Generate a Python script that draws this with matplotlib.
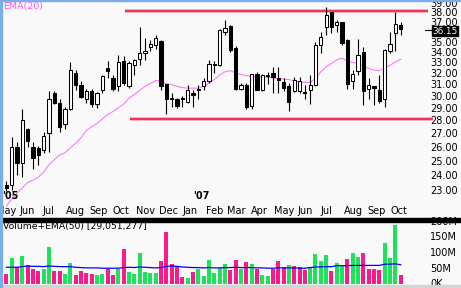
import numpy as np
import pandas as pd
import matplotlib
matplotlib.use('Agg')
import matplotlib.pyplot as plt
from matplotlib import transforms
from matplotlib.patches import Rectangle
from matplotlib.lines import Line2D

# ---------------- data ----------------
start_week = '2006-05-15'
opens = [23.2, 23.2, 25.9, 24.7, 27.2, 25.9, 25.8, 25.65, 26.9, 30.1, 29.3,
         27.6, 28.8, 31.9, 30.8, 29.6, 30.3, 29.2, 30.4, 32.3, 31.4,
         30.7, 33.0, 30.7, 32.6, 33.2, 33.7, 34.3, 34.5, 34.9, 30.9,
         29.7, 29.6, 29.7, 29.35, 30.1, 30.4, 30.7, 31.2, 32.7, 32.6,
         35.8, 36.4, 34.2, 30.5, 30.85, 29.05, 31.8, 30.4, 31.6, 31.9,
         31.4, 31.1, 30.75, 30.3, 30.3, 30.1, 30.4, 30.85, 34.5, 36.3,
         37.9, 36.5, 36.8, 35.0, 31.2, 32.1, 33.8, 30.5, 30.7, 30.4,
         29.6, 33.9, 35.7, 36.5]
highs = [23.5, 26.6, 26.2, 28.8, 27.3, 26.2, 25.95, 27.0, 30.3, 30.3, 29.6,
         29.0, 32.9, 32.2, 31.2, 30.5, 30.5, 30.2, 31.7, 33.0, 31.7,
         33.6, 33.5, 33.0, 33.2, 36.3, 35.2, 35.0, 35.5, 35.0, 30.95,
         30.1, 29.7, 29.9, 30.85, 30.4, 30.85, 31.4, 33.1, 33.0, 36.1,
         37.0, 36.5, 34.4, 31.0, 31.0, 31.8, 32.0, 31.8, 32.0, 32.4,
         32.4, 31.4, 31.0, 31.5, 31.5, 30.85, 31.7, 34.8, 35.8, 38.4,
         37.9, 37.0, 36.8, 35.1, 32.2, 35.1, 34.3, 31.4, 30.75, 31.7,
         34.1, 35.8, 37.9, 36.8]
lows = [22.85, 22.9, 23.9, 23.75, 25.9, 24.3, 24.6, 25.4, 25.5, 29.25, 27.0,
        27.2, 28.75, 30.4, 29.7, 29.3, 29.0, 28.9, 30.1, 31.4, 30.3,
        30.3, 30.8, 30.6, 31.7, 32.6, 33.1, 33.9, 34.1, 30.4, 28.4,
        29.0, 28.9, 28.95, 29.3, 29.0, 29.6, 30.4, 31.0, 31.9, 32.5,
        35.5, 33.8, 30.4, 30.4, 28.8, 28.8, 30.35, 30.3, 30.9, 30.1,
        30.1, 30.3, 28.65, 30.2, 30.1, 29.6, 29.2, 30.75, 33.7, 35.5,
        35.7, 35.8, 34.5, 30.5, 30.45, 31.7, 29.1, 29.6, 29.1, 29.3,
        29.0, 33.7, 33.9, 35.5]
closes = [23.05, 25.9, 24.7, 27.9, 26.3, 25.1, 25.3, 26.7, 29.6, 29.3, 27.4,
          28.8, 32.2, 30.8, 29.8, 30.3, 29.2, 30.1, 31.65, 32.1, 30.5,
          32.9, 31.0, 32.8, 33.1, 33.7, 33.95, 34.6, 35.2, 30.7, 29.6,
          29.6, 29.05, 29.6, 30.4, 30.0, 30.5, 31.2, 32.7, 32.6, 36.0,
          36.2, 34.0, 30.5, 30.85, 29.0, 31.8, 30.4, 31.7, 31.7, 31.5,
          31.3, 30.6, 29.4, 31.3, 31.2, 30.2, 30.85, 34.5, 35.3, 37.6,
          36.3, 36.8, 34.7, 30.9, 31.8, 33.6, 30.3, 30.8, 30.6, 29.5,
          34.0, 34.6, 36.6, 36.15]
ema20 = [21.9, 22.3, 22.7, 23.05, 23.4, 23.55, 23.75, 24.1, 24.6, 24.95, 25.3,
         25.45, 25.8, 26.15, 26.55, 27.1, 27.4, 27.65, 28.0, 28.35, 28.6,
         28.9, 29.2, 29.7, 30.0, 30.35, 30.7, 30.95, 31.2, 31.2, 30.95,
         30.85, 30.7, 30.6, 30.55, 30.55, 30.55, 30.7, 31.0, 31.3, 31.7,
         32.0, 32.1, 31.9, 31.75, 31.65, 31.6, 31.55, 31.5, 31.5, 31.45,
         31.4, 31.35, 31.3, 31.2, 31.1, 31.05, 31.05, 31.4, 32.0, 32.45,
         32.75, 33.1, 33.25, 32.95, 32.85, 32.75, 32.5, 32.3, 32.15, 32.1,
         32.35, 32.6, 32.9, 33.15]
volume_m = [32, 84, 54, 90, 60, 49, 41, 48, 119, 42, 42,
            32, 68, 29, 42, 34, 32, 30, 32, 49, 29,
            48, 113, 40, 32, 99, 40, 37, 37, 74, 168,
            65, 58, 22, 18, 40, 48, 26, 77, 34, 51,
            65, 45, 77, 50, 72, 65, 48, 29, 26, 48,
            75, 54, 61, 58, 54, 45, 54, 97, 74, 94,
            43, 69, 58, 81, 101, 88, 101, 48, 48, 45,
            133, 85, 190, 29.051277]
volume_dir = ("pgpgpppggpp" "ggppppggpp" "gpggggggpp" "pppgpggggg"
              "gppgpgpggp" "ppgpppgggg" "pggpggpppp" "gggp")
vol_ema50 = [54, 54, 54, 56, 58, 57, 57, 56, 58, 57, 56,
             56, 56, 54, 53, 52, 52, 52, 51, 51, 51,
             51, 53, 54, 53, 55, 54, 53, 52, 53, 57,
             58, 57, 55, 54, 53, 53, 52, 53, 52, 52,
             53, 53, 54, 53, 53, 53, 52, 52, 51, 51,
             52, 52, 52, 52, 51, 51, 53, 55, 55, 56,
             56, 59, 59, 59, 60, 60, 60, 60, 60, 60,
             64, 64, 65, 62]
resistance = 38.0
support = 28.0
price_ticks = [39, 38, 37, 35, 34, 33, 32, 31, 30, 29, 28, 27, 26, 25, 24, 23]
last_price = 36.15
vol_ticks = [200, 150, 100, 50, 0]
vol_tick_labels = ['200M', '150M', '100M', '50M', '0K']
month_names = ['May', 'Jun', 'Jul', 'Aug', 'Sep', 'Oct', 'Nov', 'Dec', 'Jan',
               'Feb', 'Mar', 'Apr', 'May', 'Jun', 'Jul', 'Aug', 'Sep', 'Oct']
year_labels = ["'05", "'07"]
vol_title = 'Volume+EMA(50) [29,051,277]'
price_title = 'EMA(20)'

# ---------------- derived ----------------
n = len(closes)
dates = pd.date_range(start_week, periods=n, freq='7D')
x = np.arange(n) - 1.0          # week 0 = second bar
ref_date = dates[1]
month_starts = pd.date_range('2006-05-01', periods=len(month_names), freq='MS')
month_pos = [(d - ref_date).days / 7.0 for d in month_starts]
year_pos = [-1.8, 34.0]

o = np.array(opens); h = np.array(highs); l = np.array(lows); c = np.array(closes)
up = c >= o

W, H = 461, 288
BG = '#f9f9f9'
fig = plt.figure(figsize=(W / 100, H / 100), dpi=100)
fig.patch.set_facecolor(BG)
plt.rcParams['font.family'] = ['DejaVu Sans']

def fx(px):
    return px / W

def fy(py):
    return 1 - py / H

# price panel
ax = fig.add_axes([fx(1), fy(218), fx(460), 217 / H])
ax.set_facecolor(BG)
ax.set_yscale('log')
ax.set_xlim(-2.007, 84.3)
ax.set_ylim(21.16, 39.09)
ax.axis('off')

ax.hlines(resistance, 21.3, 78.1, color='#ff9db0', lw=2.6, zorder=1)
ax.hlines(resistance, 21.3, 78.1, color='#ee2a4e', lw=1.3, zorder=1)
ax.hlines(support, 22.2, 79.0, color='#ff9db0', lw=2.6, zorder=1)
ax.hlines(support, 22.2, 79.0, color='#ee2a4e', lw=1.3, zorder=1)

ax.plot(x, ema20, color='#ff77ff', lw=0.8, zorder=2)
ax.vlines(x, l, h, color='black', lw=0.8, zorder=3)
ax.bar(x, np.abs(c - o), bottom=np.minimum(o, c), width=0.62,
       color=np.where(up, 'white', 'black'), edgecolor='black',
       linewidth=0.75, zorder=4)

fig.text(fx(3), fy(6.5), price_title, color='#ff55ff', fontsize=6.8,
         ha='left', va='center')

tr_price = transforms.blended_transform_factory(fig.transFigure, ax.transData)
tr_price_off = transforms.offset_copy(tr_price, fig=fig, x=0, y=-2.5, units='dots')
for v in price_ticks:
    fig.text(fx(430), v, f'{v:.2f}', transform=tr_price_off, fontsize=7,
             ha='left', va='center', color='black', zorder=6)
fig.text(fx(432), last_price, f'{last_price:.2f}', transform=tr_price_off,
         fontsize=6.4, ha='left', va='center', color='white', zorder=8,
         bbox=dict(boxstyle='square,pad=0.05', fc='black', ec='black'))
fig.add_artist(Line2D([fx(425), fx(431)], [last_price, last_price],
                      transform=transforms.offset_copy(tr_price, fig=fig, y=-1.5, units='dots'),
                      color='black', lw=0.8, zorder=8))

tr_month = transforms.blended_transform_factory(ax.transData, fig.transFigure)
for name, pos in zip(month_names, month_pos):
    ax.text(pos, fy(210.5), name, transform=tr_month, fontsize=7,
            ha='left', va='center', color='black', clip_on=False)
for name, pos in zip(year_labels, year_pos):
    ax.text(pos, fy(196), name, transform=tr_month, fontsize=7,
            fontweight='bold', ha='left', va='center', color='black')

# volume panel
vax = fig.add_axes([fx(1), fy(285), fx(460), 64 / H])
vax.set_facecolor(BG)
vax.set_xlim(-2.007, 84.3)
vax.set_ylim(-3.2, 203.2)
vax.axis('off')
vcol = ['#ff1a8c' if d == 'p' else '#1ee35a' for d in volume_dir]
vax.bar(x, volume_m, width=0.75, color=vcol, linewidth=0, zorder=2)
vax.plot(x, vol_ema50, color='#0000ff', lw=0.9, zorder=3)

tr_vol = transforms.blended_transform_factory(fig.transFigure, vax.transData)
for v, lab in zip(vol_ticks, vol_tick_labels):
    fig.text(fx(430), v, lab, transform=tr_vol, fontsize=7, ha='left',
             va='center', color='black', zorder=4)
fig.text(fx(3), fy(226.5), vol_title, fontsize=6.7, ha='left', va='center',
         color='black', zorder=4)

# frame decorations
fig.add_artist(Rectangle((0, fy(221.5)), 1, 4 / H, transform=fig.transFigure,
                         color='black', zorder=10))
fig.add_artist(Rectangle((0, fy(288)), 1, 3 / H, transform=fig.transFigure,
                         color='#d4d4d4', zorder=10))
fig.add_artist(Rectangle((0, 0), 1.6 / W, 1, transform=fig.transFigure,
                         color='#7aaee6', zorder=11))
fig.add_artist(Rectangle((0, fy(1.2)), 1, 1.2 / H, transform=fig.transFigure,
                         color='#7aaee6', zorder=11))

fig.savefig('out.png', dpi=100, facecolor=BG)
